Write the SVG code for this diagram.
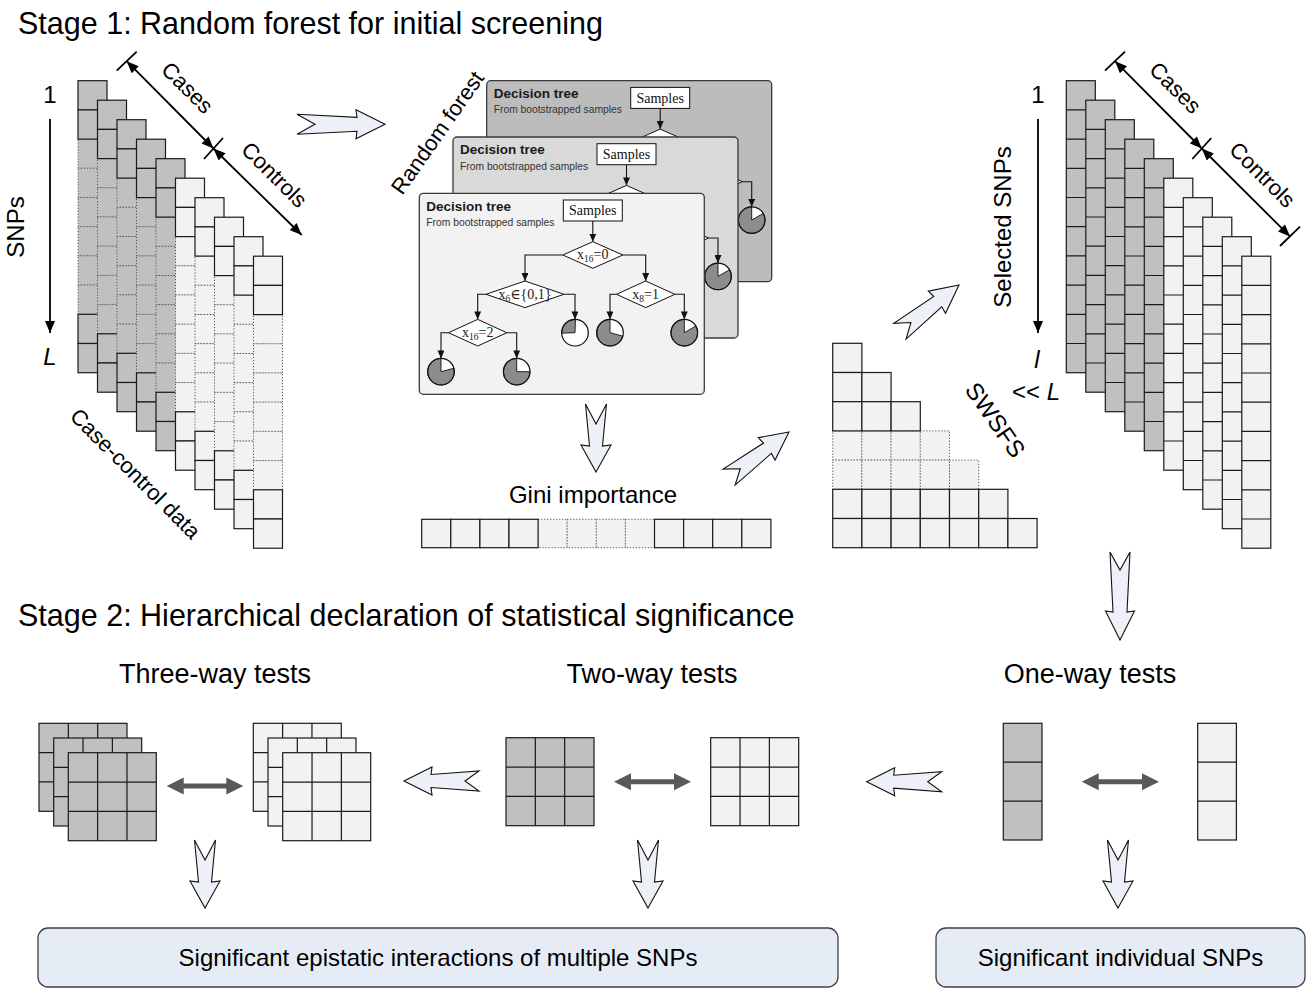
<svg xmlns="http://www.w3.org/2000/svg" xmlns:xlink="http://www.w3.org/1999/xlink" width="1310" height="994" viewBox="0 0 1310 994">
<style>
  text { font-family: "Liberation Sans", Arial, sans-serif; fill: #000; }
  .t30 { font-size: 30.5px; }
  .t27 { font-size: 27px; }
  .t24 { font-size: 24px; }
  .t22 { font-size: 22px; }
  .mid { text-anchor: middle; }
  .it { font-style: italic; }
  .sc { stroke: #1a1a1a; stroke-width: 1.2; }
  .dc { stroke: #555; stroke-width: 1; stroke-dasharray: 1.2 1.8; }
  .nf { fill: none; }
  .card { stroke: #3a3a3a; stroke-width: 1.3; }
  .dt { font-size: 13.5px; font-weight: bold; fill: #1a1a1a; }
  .fb { font-size: 10.3px; fill: #333; }
  .tm { font-family: "Liberation Serif", "DejaVu Serif", serif; font-size: 14px; text-anchor: middle; fill: #111; }
  .tm2 { font-family: "Liberation Serif", "DejaVu Serif", serif; font-size: 14px; text-anchor: middle; fill: #222; }
  .sub { font-size: 9.5px; }
  .wbox { fill: #fff; stroke: #111; stroke-width: 1; }
  .tl { fill: none; stroke: #111; stroke-width: 1.1; }
  .pg { fill: #8c8c8c; stroke: #111; stroke-width: 0.9; }
  .pw { fill: #fff; }
  .po { fill: none; stroke: #111; stroke-width: 1.2; }
  .barrow { fill: #edf0f6; stroke: #111; stroke-width: 1.1; stroke-linejoin: miter; }
  .darr { fill: #595959; }
  .bl { stroke: #000; stroke-width: 1.8; fill: none; }
  .tick { stroke: #000; stroke-width: 1.8; }
  .res { fill: #e6ecf6; stroke: #404040; stroke-width: 1.3; }
</style>
<defs>
  <marker id="bk" viewBox="0 0 12 10" refX="12" refY="5" markerWidth="13" markerHeight="10" markerUnits="userSpaceOnUse" orient="auto-start-reverse">
    <path d="M0,0 L12,5 L0,10 Z" fill="#000"/>
  </marker>
  <marker id="ta" viewBox="0 0 8 7" refX="8" refY="3.5" markerWidth="8" markerHeight="7" markerUnits="userSpaceOnUse" orient="auto">
    <path d="M0,0 L8,3.5 L0,7 Z" fill="#111"/>
  </marker>
  <g id="colA">
    <rect class="dc" x="0" y="58.4" width="29" height="29.2"/>
    <rect class="dc" x="0" y="87.6" width="29" height="29.2"/>
    <rect class="dc" x="0" y="116.8" width="29" height="29.2"/>
    <rect class="dc" x="0" y="146" width="29" height="29.2"/>
    <rect class="dc" x="0" y="175.2" width="29" height="29.2"/>
    <rect class="dc" x="0" y="204.4" width="29" height="29.2"/>
    <rect class="sc" x="0" y="0" width="29" height="29.2"/>
    <rect class="sc" x="0" y="29.2" width="29" height="29.2"/>
    <rect class="sc" x="0" y="233.6" width="29" height="29.2"/>
    <rect class="sc" x="0" y="262.8" width="29" height="29.2"/>
  </g>
  <g id="colB">
    <rect class="sc" x="0" y="0" width="29" height="292"/>
    <path class="sc nf" d="M0,29.2H29M0,58.4H29M0,87.6H29M0,116.8H29M0,146H29M0,175.2H29M0,204.4H29M0,233.6H29M0,262.8H29"/>
  </g>
  <g id="g3">
    <rect class="sc" x="0" y="0" width="88" height="88"/>
    <path class="sc nf" d="M29.33,0V88M58.67,0V88M0,29.33H88M0,58.67H88"/>
  </g>
  <g id="g1">
    <rect class="sc" x="0" y="0" width="38.7" height="116.7"/>
    <path class="sc nf" d="M0,38.9H38.7M0,77.8H38.7"/>
  </g>
  <path id="ba88" class="barrow" d="M0,0 L-29,-14.5 L-28,-7 L-88,-10 L-70,0 L-88,10 L-28,7 L-29,14.5 Z"/>
  <path id="ba75" class="barrow" d="M0,0 L-28,-14 L-27,-6.5 L-75,-10 L-61,0 L-75,10 L-27,6.5 L-28,14 Z"/>
  <path id="ba68" class="barrow" d="M0,0 L-27,-15 L-26,-6.5 L-68,-10.5 L-48,0 L-68,10.5 L-26,6.5 L-27,15 Z"/>
  <g id="tree">
    <text class="dt" x="7" y="17.4">Decision tree</text>
    <text class="fb" x="7" y="32.7">From bootstrapped samples</text>
    <rect class="wbox" x="144" y="6.7" width="59" height="21"/>
    <text class="tm" x="173.5" y="22">Samples</text>
    <path class="tl" d="M173.5,27.7 V48.4" marker-end="url(#ta)"/>
    <path class="tl" d="M143.5,61.7 H105.7 V87.7" marker-end="url(#ta)"/>
    <path class="tl" d="M203.5,61.7 H226.4 V87.7" marker-end="url(#ta)"/>
    <path class="tl" d="M66.7,101 H58.4 V126.1" marker-end="url(#ta)"/>
    <path class="tl" d="M144.7,101 H155.7 V126.1" marker-end="url(#ta)"/>
    <path class="tl" d="M197.2,101 H190.7 V126.1" marker-end="url(#ta)"/>
    <path class="tl" d="M255.6,101 H265 V126.1" marker-end="url(#ta)"/>
    <path class="tl" d="M29.2,139.4 H21.7 V165.1" marker-end="url(#ta)"/>
    <path class="tl" d="M87.6,139.4 H97.4 V165.1" marker-end="url(#ta)"/>
    <polygon class="wbox" points="143.5,61.7 173.5,48.4 203.5,61.7 173.5,75"/>
    <text class="tm2" x="173.5" y="66">x<tspan class="sub" dy="3">16</tspan><tspan dy="-3">=0</tspan></text>
    <polygon class="wbox" points="66.7,101 105.7,87.7 144.7,101 105.7,114.3"/>
    <text class="tm2" x="105.7" y="105.5">x<tspan class="sub" dy="3">6</tspan><tspan dy="-3">∈{0,1}</tspan></text>
    <polygon class="wbox" points="197.2,101 226.4,87.7 255.6,101 226.4,114.3"/>
    <text class="tm2" x="226.4" y="105.5">x<tspan class="sub" dy="3">8</tspan><tspan dy="-3">=1</tspan></text>
    <polygon class="wbox" points="29.2,139.4 58.4,126.1 87.6,139.4 58.4,152.7"/>
    <text class="tm2" x="58.4" y="143.8">x<tspan class="sub" dy="3">16</tspan><tspan dy="-3">=2</tspan></text>
    <g transform="translate(155.7,139.4)"><circle class="pw" r="13.3"/><path class="pg" d="M0,0 L-13.29,0.46 A13.3,13.3 0 0 1 0.46,-13.29 Z"/><circle class="po" r="13.3"/></g>
    <g transform="translate(190.7,139.4)"><circle class="pw" r="13.3"/><path class="pg" d="M0,0 L12.85,3.44 A13.3,13.3 0 1 1 0,-13.3 Z"/><circle class="po" r="13.3"/></g>
    <g transform="translate(265,139.4)"><circle class="pw" r="13.3"/><path class="pg" d="M0,0 L11.52,-6.65 A13.3,13.3 0 1 1 0,-13.3 Z"/><circle class="po" r="13.3"/></g>
    <g transform="translate(21.7,178.4)"><circle class="pw" r="13.3"/><path class="pg" d="M0,0 L12.85,-3.44 A13.3,13.3 0 1 1 0,-13.3 Z"/><circle class="po" r="13.3"/></g>
    <g transform="translate(97.4,178.4)"><circle class="pw" r="13.3"/><path class="pg" d="M0,0 L13.3,0 A13.3,13.3 0 1 1 0,-13.3 Z"/><circle class="po" r="13.3"/></g>
  </g>
</defs>

<rect width="1310" height="994" fill="#fff"/>

<!-- Titles -->
<g id="titles">
  <text class="t30" x="18" y="34">Stage 1: Random forest for initial screening</text>
  <text class="t30" x="18" y="626">Stage 2: Hierarchical declaration of statistical significance</text>
</g>

<!-- Case-control data stack -->
<g id="case-control-data">
  <use href="#colA" x="78" y="80.7" fill="#c0c0c0"/>
  <use href="#colA" x="97.5" y="100.2" fill="#c0c0c0"/>
  <use href="#colA" x="117" y="119.7" fill="#c0c0c0"/>
  <use href="#colA" x="136.5" y="139.2" fill="#c0c0c0"/>
  <use href="#colA" x="156" y="158.7" fill="#c0c0c0"/>
  <use href="#colA" x="175.5" y="178.2" fill="#f2f2f2"/>
  <use href="#colA" x="195" y="197.7" fill="#f2f2f2"/>
  <use href="#colA" x="214.5" y="217.2" fill="#f2f2f2"/>
  <use href="#colA" x="234" y="236.7" fill="#f2f2f2"/>
  <use href="#colA" x="253.5" y="256.2" fill="#f2f2f2"/>
  <text class="t24 mid" x="50" y="103">1</text>
  <text class="t24 mid it" x="50" y="365">L</text>
  <line class="bl" x1="50" y1="119" x2="50" y2="333" marker-end="url(#bk)"/>
  <text class="t24 mid" transform="translate(16,227) rotate(-90)" y="8">SNPs</text>
  <line class="tick" x1="116.7" y1="70.7" x2="136.7" y2="51.7"/>
  <line class="tick" x1="204" y1="159" x2="223" y2="138"/>
  <line class="bl" x1="126.7" y1="61.2" x2="213.5" y2="148.5" marker-start="url(#bk)" marker-end="url(#bk)"/>
  <line class="bl" x1="213.5" y1="148.5" x2="301.7" y2="235" marker-start="url(#bk)" marker-end="url(#bk)"/>
  <text class="t22 mid" transform="translate(187,88) rotate(45)" y="7">Cases</text>
  <text class="t22 mid" transform="translate(274,175) rotate(45)" y="7">Controls</text>
  <text class="t22 mid" transform="translate(135,474) rotate(45)" y="7">Case-control data</text>
</g>

<!-- Random forest -->
<g id="random-forest">
  <text class="t22 mid" transform="translate(438,133) rotate(-55)" y="7">Random forest</text>
  <g id="tree-back" transform="translate(486.7,80.7)">
    <rect class="card" x="0" y="0" width="285" height="201" rx="4" fill="#bcbcbc"/>
    <use href="#tree"/>
  </g>
  <g id="tree-middle" transform="translate(453,137)">
    <rect class="card" x="0" y="0" width="285" height="201" rx="4" fill="#d9d9d9"/>
    <use href="#tree"/>
  </g>
  <g id="tree-front" transform="translate(419.3,193.3)">
    <rect class="card" x="0" y="0" width="285" height="201" rx="4" fill="#f2f2f2"/>
    <use href="#tree"/>
  </g>
</g>

<!-- Gini importance -->
<g id="gini-importance">
  <text class="t24 mid" x="593" y="503">Gini importance</text>
  <g fill="#f2f2f2">
    <rect class="dc" x="538.1" y="519.3" width="29.1" height="28.4"/>
    <rect class="dc" x="567.2" y="519.3" width="29.1" height="28.4"/>
    <rect class="dc" x="596.3" y="519.3" width="29.1" height="28.4"/>
    <rect class="dc" x="625.4" y="519.3" width="29.1" height="28.4"/>
    <rect class="sc" x="421.7" y="519.3" width="29.1" height="28.4"/>
    <rect class="sc" x="450.8" y="519.3" width="29.1" height="28.4"/>
    <rect class="sc" x="479.9" y="519.3" width="29.1" height="28.4"/>
    <rect class="sc" x="509" y="519.3" width="29.1" height="28.4"/>
    <rect class="sc" x="654.5" y="519.3" width="29.1" height="28.4"/>
    <rect class="sc" x="683.6" y="519.3" width="29.1" height="28.4"/>
    <rect class="sc" x="712.7" y="519.3" width="29.1" height="28.4"/>
    <rect class="sc" x="741.8" y="519.3" width="29.1" height="28.4"/>
  </g>
</g>

<!-- SWSFS staircase -->
<g id="swsfs">
  <text class="t24 mid" transform="translate(995,420) rotate(55)" y="8">SWSFS</text>
  <g fill="#f2f2f2">
    <rect class="dc" x="832.7" y="430.9" width="29.2" height="29.2"/>
    <rect class="dc" x="861.9" y="430.9" width="29.2" height="29.2"/>
    <rect class="dc" x="891.1" y="430.9" width="29.2" height="29.2"/>
    <rect class="dc" x="920.3" y="430.9" width="29.2" height="29.2"/>
    <rect class="dc" x="832.7" y="460.1" width="29.2" height="29.2"/>
    <rect class="dc" x="861.9" y="460.1" width="29.2" height="29.2"/>
    <rect class="dc" x="891.1" y="460.1" width="29.2" height="29.2"/>
    <rect class="dc" x="920.3" y="460.1" width="29.2" height="29.2"/>
    <rect class="dc" x="949.5" y="460.1" width="29.2" height="29.2"/>
    <rect class="sc" x="832.7" y="343.3" width="29.2" height="29.2"/>
    <rect class="sc" x="832.7" y="372.5" width="29.2" height="29.2"/>
    <rect class="sc" x="861.9" y="372.5" width="29.2" height="29.2"/>
    <rect class="sc" x="832.7" y="401.7" width="29.2" height="29.2"/>
    <rect class="sc" x="861.9" y="401.7" width="29.2" height="29.2"/>
    <rect class="sc" x="891.1" y="401.7" width="29.2" height="29.2"/>
    <rect class="sc" x="832.7" y="489.3" width="29.2" height="29.2"/>
    <rect class="sc" x="861.9" y="489.3" width="29.2" height="29.2"/>
    <rect class="sc" x="891.1" y="489.3" width="29.2" height="29.2"/>
    <rect class="sc" x="920.3" y="489.3" width="29.2" height="29.2"/>
    <rect class="sc" x="949.5" y="489.3" width="29.2" height="29.2"/>
    <rect class="sc" x="978.7" y="489.3" width="29.2" height="29.2"/>
    <rect class="sc" x="832.7" y="518.5" width="29.2" height="29.2"/>
    <rect class="sc" x="861.9" y="518.5" width="29.2" height="29.2"/>
    <rect class="sc" x="891.1" y="518.5" width="29.2" height="29.2"/>
    <rect class="sc" x="920.3" y="518.5" width="29.2" height="29.2"/>
    <rect class="sc" x="949.5" y="518.5" width="29.2" height="29.2"/>
    <rect class="sc" x="978.7" y="518.5" width="29.2" height="29.2"/>
    <rect class="sc" x="1007.9" y="518.5" width="29.2" height="29.2"/>
  </g>
</g>

<!-- Selected SNPs stack -->
<g id="selected-snps">
  <use href="#colB" x="1066.3" y="80.7" fill="#c0c0c0"/>
  <use href="#colB" x="1085.8" y="100.2" fill="#c0c0c0"/>
  <use href="#colB" x="1105.3" y="119.7" fill="#c0c0c0"/>
  <use href="#colB" x="1124.8" y="139.2" fill="#c0c0c0"/>
  <use href="#colB" x="1144.3" y="158.7" fill="#c0c0c0"/>
  <use href="#colB" x="1163.8" y="178.2" fill="#f2f2f2"/>
  <use href="#colB" x="1183.3" y="197.7" fill="#f2f2f2"/>
  <use href="#colB" x="1202.8" y="217.2" fill="#f2f2f2"/>
  <use href="#colB" x="1222.3" y="236.7" fill="#f2f2f2"/>
  <use href="#colB" x="1241.8" y="256.2" fill="#f2f2f2"/>
  <text class="t24 mid" x="1038" y="103">1</text>
  <line class="bl" x1="1038" y1="119" x2="1038" y2="333" marker-end="url(#bk)"/>
  <text class="t24 mid it" x="1037" y="368">l</text>
  <text class="t24 mid" x="1036" y="400">&lt;&lt; <tspan class="it">L</tspan></text>
  <text class="t24 mid" transform="translate(1003,227) rotate(-90)" y="8">Selected SNPs</text>
  <line class="tick" x1="1105" y1="70.7" x2="1125" y2="51.7"/>
  <line class="tick" x1="1192.3" y1="159" x2="1211.3" y2="138"/>
  <line class="tick" x1="1280" y1="246" x2="1300" y2="226.7"/>
  <line class="bl" x1="1115" y1="61.2" x2="1201.8" y2="148.5" marker-start="url(#bk)" marker-end="url(#bk)"/>
  <line class="bl" x1="1201.8" y1="148.5" x2="1290" y2="236.4" marker-start="url(#bk)" marker-end="url(#bk)"/>
  <text class="t22 mid" transform="translate(1175,88) rotate(45)" y="7">Cases</text>
  <text class="t22 mid" transform="translate(1262,175) rotate(45)" y="7">Controls</text>
</g>

<!-- Stage 2 tests -->
<g id="three-way-tests">
  <text class="t27 mid" x="215" y="683">Three-way tests</text>
  <use href="#g3" x="39" y="723.3" fill="#c0c0c0"/>
  <use href="#g3" x="53.7" y="738" fill="#c0c0c0"/>
  <use href="#g3" x="68.3" y="752.7" fill="#c0c0c0"/>
  <use href="#g3" x="253.3" y="723.3" fill="#f2f2f2"/>
  <use href="#g3" x="268" y="738" fill="#f2f2f2"/>
  <use href="#g3" x="282.7" y="752.7" fill="#f2f2f2"/>
</g>
<g id="two-way-tests">
  <text class="t27 mid" x="652" y="683">Two-way tests</text>
  <use href="#g3" x="506" y="737.7" fill="#c0c0c0"/>
  <use href="#g3" x="710.7" y="737.7" fill="#f2f2f2"/>
</g>
<g id="one-way-tests">
  <text class="t27 mid" x="1090" y="683">One-way tests</text>
  <use href="#g1" x="1003.3" y="723.3" fill="#c0c0c0"/>
  <use href="#g1" x="1197.7" y="723.3" fill="#f2f2f2"/>
</g>

<!-- Results -->
<g id="result-epistatic">
  <rect class="res" x="38" y="928" width="800" height="59" rx="10"/>
  <text class="t24 mid" x="438" y="966">Significant epistatic interactions of multiple SNPs</text>
</g>
<g id="result-individual">
  <rect class="res" x="936" y="928" width="369" height="59" rx="10"/>
  <text class="t24 mid" x="1120.5" y="966">Significant individual SNPs</text>
</g>

<!-- Connectors -->
<g id="connectors">
  <use href="#ba88" transform="translate(385,124.3)"/>
  <use href="#ba68" transform="translate(596,472) rotate(90)"/>
  <use href="#ba75" transform="translate(789,432) rotate(-37)"/>
  <use href="#ba75" transform="translate(959,285) rotate(-38)"/>
  <use href="#ba88" transform="translate(1120,640) rotate(90)"/>
  <use href="#ba75" transform="translate(866.7,781.7) rotate(180)"/>
  <use href="#ba75" transform="translate(404,781) rotate(180)"/>
  <use href="#ba68" transform="translate(205,908) rotate(90)"/>
  <use href="#ba68" transform="translate(648,908) rotate(90)"/>
  <use href="#ba68" transform="translate(1118,908) rotate(90)"/>
  <path class="darr" d="M166.7,786 L183.7,777.5 L183.7,783.5 L226.3,783.5 L226.3,777.5 L243.3,786 L226.3,794.5 L226.3,788.5 L183.7,788.5 L183.7,794.5 Z"/>
  <path class="darr" d="M614,781.7 L631,773.2 L631,779.2 L674,779.2 L674,773.2 L691,781.7 L674,790.2 L674,784.2 L631,784.2 L631,790.2 Z"/>
  <path class="darr" d="M1081.7,781.7 L1098.7,773.2 L1098.7,779.2 L1142,779.2 L1142,773.2 L1159,781.7 L1142,790.2 L1142,784.2 L1098.7,784.2 L1098.7,790.2 Z"/>
</g>
</svg>
